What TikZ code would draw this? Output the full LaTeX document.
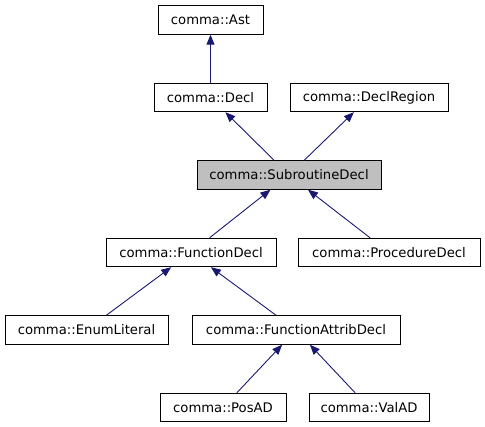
\documentclass[tikz,border=0pt]{standalone}
\usepackage{fontspec}
\setmainfont{DejaVu Sans}
\definecolor{dox_edge}{RGB}{25, 25, 112}
\definecolor{dox_gray}{RGB}{191, 191, 191}
\usetikzlibrary{arrows.meta}

\begin{document}
\begin{tikzpicture}[x=1pt, y=-1pt,
    cls/.style={draw=black, line width=0.9pt, fill=white, inner sep=0pt,
                minimum height=28.5pt, font=\fontsize{13.2}{15}\selectfont},
    inh/.style={draw=dox_edge, line width=0.9pt,
                -{Triangle[length=10pt, width=8pt]}}]
        % --- canvas ---
        \useasboundingbox (0,0) rectangle (485,427);

        % --- Classes ---
        \node[cls, minimum width=105pt] (ast)    at (210.5, 20)   {comma::Ast};
        \node[cls, minimum width=113pt] (decl)   at (210.5, 97.5) {comma::Decl};
        \node[cls, minimum width=158pt] (region) at (369, 97.5)   {comma::DeclRegion};
        \node[cls, minimum width=184pt, fill=dox_gray] (sub) at (289, 175) {comma::SubroutineDecl};
        \node[cls, minimum width=170pt] (func)   at (191, 252.5)  {comma::FunctionDecl};
        \node[cls, minimum width=182pt] (proc)   at (389, 252.5)  {comma::ProcedureDecl};
        \node[cls, minimum width=163pt] (enum)   at (86.5, 330)   {comma::EnumLiteral};
        \node[cls, minimum width=208pt] (attrib) at (296, 330)    {comma::FunctionAttribDecl};
        \node[cls, minimum width=126pt] (pos)    at (223, 407.5)  {comma::PosAD};
        \node[cls, minimum width=120pt] (val)    at (369, 407.5)  {comma::ValAD};

        % --- Inheritance ---
        \draw[inh] (decl) -- (ast);
        \draw[inh] (sub) -- (decl);
        \draw[inh] (sub) -- (region);
        \draw[inh] (func) -- (sub);
        \draw[inh] (proc) -- (sub);
        \draw[inh] (enum) -- (func);
        \draw[inh] (attrib) -- (func);
        \draw[inh] (pos) -- (attrib);
        \draw[inh] (val) -- (attrib);
\end{tikzpicture}
\end{document}
